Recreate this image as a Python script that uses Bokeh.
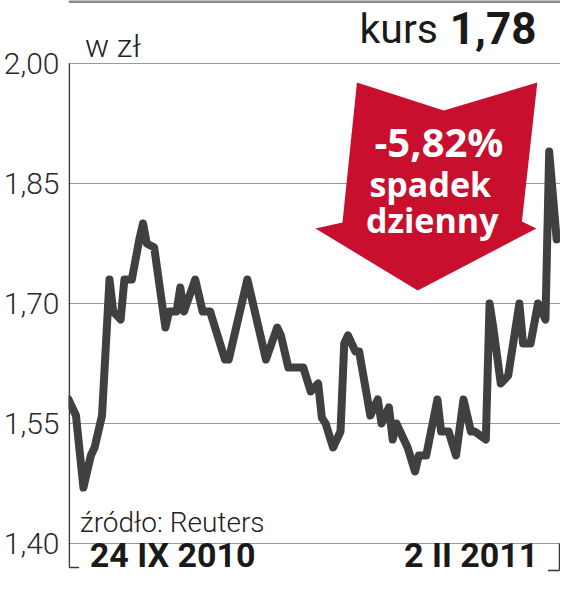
from bokeh.plotting import figure
from bokeh.models import Range1d, FixedTicker, CustomJSTickFormatter, Label, Span
from bokeh.embed import file_html
from bokeh.resources import INLINE

# ---- data (trading-day offset from 24 IX 2010, price in zł) ----
days = [0, 2, 4, 6, 7, 9, 11, 12, 14, 15, 17, 19, 20, 21, 23, 26, 27, 29, 30, 31,
        34, 36, 38, 42, 43, 48, 49, 53, 56, 57, 59, 63, 65, 67, 68, 69, 71, 73, 74, 75,
        77, 78, 81, 83, 84, 86, 87, 88, 91, 93, 94, 96, 99, 100, 102, 104, 106, 108, 109, 112,
        113, 114, 116, 118, 121, 122, 124, 126, 128, 129, 131]
values = [1.58, 1.56, 1.47, 1.51, 1.52, 1.56, 1.73, 1.69, 1.68, 1.73, 1.73, 1.78, 1.80, 1.775, 1.77, 1.67, 1.69, 1.69, 1.72, 1.69,
          1.73, 1.69, 1.69, 1.63, 1.63, 1.73, 1.71, 1.63, 1.67, 1.66, 1.62, 1.62, 1.59, 1.60, 1.557, 1.55, 1.52, 1.54, 1.65, 1.66,
          1.64, 1.64, 1.56, 1.58, 1.55, 1.57, 1.53, 1.55, 1.52, 1.49, 1.51, 1.51, 1.58, 1.54, 1.54, 1.51, 1.58, 1.54, 1.54, 1.53,
          1.70, 1.67, 1.60, 1.61, 1.70, 1.65, 1.65, 1.70, 1.68, 1.89, 1.78]
y_ticks = [1.40, 1.55, 1.70, 1.85, 2.00]
unit_label = "w zł"
source_label = "źródło: Reuters"
start_label = "24 IX 2010"
end_label = "2 II 2011"
price_word = "kurs"
last_price = "1,78"
change_lines = ["-5,82%", "spadek", "dzienny"]

# ---- layout helpers (reference-pixel -> data coordinates) ----
W, H = 560, 577
PX_PER_DAY = 506 / 131
PX_PER_UNIT = 800.0


def dx(rx):
    return (rx - 66) / PX_PER_DAY


def dy(ry):
    return 2.0 - (ry - 63) / PX_PER_UNIT


def base(ry, size):
    # baseline correction for label placement
    return dy(ry - 0.4 * size)


p = figure(width=W, height=H, output_backend="svg", toolbar_location=None,
           x_axis_location=None,
           x_range=Range1d(dx(66), dx(576)), y_range=Range1d(dy(577), dy(0)),
           min_border_left=66, min_border_right=0, min_border_top=0, min_border_bottom=0)
p.outline_line_color = None
p.background_fill_color = "white"
p.border_fill_color = "white"

ax = p.yaxis[0]
ax.ticker = FixedTicker(ticks=y_ticks)
ax.formatter = CustomJSTickFormatter(code="return tick.toFixed(2).replace('.', ',');")
ax.axis_line_color = None
ax.major_tick_line_color = None
ax.minor_tick_line_color = None
ax.major_tick_out = 0
ax.major_tick_in = 0
ax.major_label_standoff = 9
ax.major_label_text_font = "Roboto Light"
ax.major_label_text_font_size = "30px"
ax.major_label_text_color = "#2a2a2a"

p.ygrid.ticker = FixedTicker(ticks=y_ticks)
p.ygrid.grid_line_color = "#9a9a9a"
p.ygrid.grid_line_width = 1.2
p.xgrid.grid_line_color = None

# top separator bar
p.add_layout(Span(location=dy(1), dimension="width", line_color="#8a8a8a", line_width=3))

# axis bracket
p.segment(x0=[dx(66.8), dx(66.8), dx(575), dx(563)],
          y0=[dy(63), dy(567), dy(543), dy(570)],
          x1=[dx(66.8), dx(77), dx(575), dx(575)],
          y1=[dy(567), dy(567), dy(570), dy(570)],
          line_color="#3a3a3a", line_width=1.6)

# red arrow
arrow_px = [(365, 82), (455, 110), (552, 82), (536, 221), (551, 228), (428, 290), (322, 228), (350, 222)]
p.patch(x=[dx(a) for a, b in arrow_px], y=[dy(b) for a, b in arrow_px],
        fill_color="#c8102e", line_color=None)

# price line
p.line(days, values, line_color="#404040", line_width=8, line_join="round", line_cap="round")

# texts
p.add_layout(Label(x=dx(83), y=base(58, 32), text=unit_label, text_font="Roboto Light",
                   text_font_size="32px", text_color="#222222", text_baseline="alphabetic"))
p.add_layout(Label(x=dx(449), y=base(45, 41), text=price_word, text_font="Roboto",
                   text_font_size="41px", text_color="#1a1a1a", text_align="right",
                   text_baseline="alphabetic"))
p.add_layout(Label(x=dx(551), y=base(45, 44), text=last_price, text_font="Roboto",
                   text_font_style="bold", text_font_size="44px", text_color="#1a1a1a",
                   text_align="right", text_baseline="alphabetic"))
for txt, cx, by, fs in zip(change_lines, [450, 441, 443], [157, 197, 233], [40, 34, 34]):
    p.add_layout(Label(x=dx(cx), y=base(by, fs), text=txt, text_font="Open Sans",
                       text_font_style="bold", text_font_size=f"{fs}px", text_color="white",
                       text_align="center", text_baseline="alphabetic"))
p.add_layout(Label(x=dx(78), y=base(533, 28), text=source_label, text_font="Roboto Light",
                   text_font_size="28px", text_color="#222222", text_baseline="alphabetic"))
p.add_layout(Label(x=dx(88), y=base(568.5, 34), text=start_label, text_font="Roboto",
                   text_font_style="bold", text_font_size="34px", text_color="#1a1a1a",
                   text_baseline="alphabetic"))
p.add_layout(Label(x=dx(553), y=base(568.5, 34), text=end_label, text_font="Roboto",
                   text_font_style="bold", text_font_size="34px", text_color="#1a1a1a",
                   text_align="right", text_baseline="alphabetic"))

open("out.html", "w").write(file_html(p, INLINE))
